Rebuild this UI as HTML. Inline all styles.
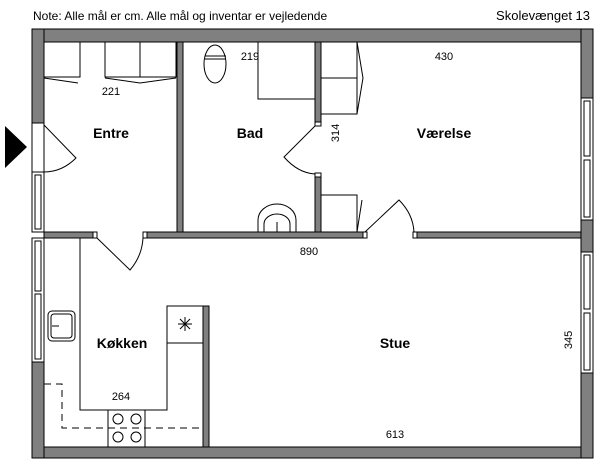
<!DOCTYPE html>
<html><head><style>
html,body{margin:0;padding:0;background:#fff;}
svg{display:block;font-family:"Liberation Sans",sans-serif;}
</style></head><body>
<svg width="600" height="464" viewBox="0 0 600 464" xmlns="http://www.w3.org/2000/svg">
<text x="33" y="20" font-size="12" fill="#000">Note: Alle mål er cm. Alle mål og inventar er vejledende</text>
<text x="590" y="20" font-size="13" text-anchor="end" fill="#000">Skolevænget 13</text>
<polygon points="5,126 27,147 5,168" fill="#000"/>
<g fill="#808080" stroke="#000" stroke-width="1">
<rect x="32" y="29" width="561" height="13"/>
<rect x="32" y="447" width="561" height="11"/>
<rect x="32" y="29" width="12" height="94"/>
<rect x="32" y="362" width="12" height="96"/>
<rect x="581" y="29" width="12" height="69"/>
<rect x="581" y="220" width="12" height="32"/>
<rect x="581" y="373" width="12" height="85"/>
<rect x="44" y="232" width="51" height="6"/>
<rect x="145" y="232" width="220" height="6"/>
<rect x="415" y="232" width="166" height="6"/>
<rect x="177" y="42" width="6" height="190"/>
<rect x="315" y="42" width="6" height="83"/>
<rect x="315" y="173" width="6" height="59"/>
<rect x="203" y="306" width="6" height="141"/>
</g>
<g fill="#fff" stroke="#000" stroke-width="1">
<rect x="32" y="123" width="12" height="49"/>
<rect x="32" y="172" width="12" height="60"/>
<rect x="35" y="175" width="6" height="54"/>
<rect x="32" y="238" width="12" height="124"/>
<rect x="35" y="241" width="6" height="50"/><rect x="35" y="294" width="6" height="65"/>
<rect x="581" y="98" width="12" height="122"/>
<rect x="584" y="101" width="6" height="55"/><rect x="584" y="160" width="6" height="57"/>
<rect x="581" y="252" width="12" height="121"/>
<rect x="584" y="255" width="6" height="54"/><rect x="584" y="313" width="6" height="57"/>
<rect x="93" y="232" width="4" height="6"/><rect x="143" y="232" width="4" height="6"/>
<rect x="363" y="232" width="4" height="6"/><rect x="413" y="232" width="4" height="6"/>
<rect x="315" y="122" width="6" height="4"/><rect x="315" y="173" width="6" height="4"/>
</g>
<g fill="none" stroke="#000" stroke-width="1">
<path d="M44,125 L76,158 Q62,172 44,172"/>
<path d="M97,238 L130,270 Q142,256 143,238"/>
<path d="M365,232 L399,200 Q413,214 414,232"/>
<path d="M315,126 L284,157 Q298,173 315,174"/>
<rect x="44" y="42" width="36" height="35"/>
<path d="M44,78 L78,83"/>
<rect x="105" y="42" width="35" height="35"/><rect x="140" y="42" width="36" height="35"/>
<path d="M105,78 L140,83 L176,78"/>
<path d="M258,42 L258,99 L315,99"/>
<ellipse cx="215" cy="64" rx="11" ry="19"/>
<path d="M205,56 L226,56 M205,59 L226,59"/>
<path d="M258,232 L258,220 A19,16 0 0 1 296,220 L296,232"/>
<path d="M264,232 L264,224 A13,10 0 0 1 290,224 L290,232"/>
<path d="M277,222 L277,232"/>
<rect x="321" y="42" width="36" height="72"/>
<path d="M321,78 L357,78"/>
<path d="M357,42 L363,78 L357,114"/>
<rect x="321" y="195" width="36" height="37"/>
<path d="M357,232 L362,200"/>
<path d="M80,238 L80,410 L167,410 L167,306 L203,306"/>
<rect x="167" y="306" width="36" height="37"/>
<path d="M178,324 L192,324 M185,317 L185,331 M180,319 L190,329 M190,319 L180,329"/>
<rect x="108" y="410" width="37" height="37"/>
<circle cx="118" cy="419" r="5"/><circle cx="136" cy="419" r="5"/>
<circle cx="118" cy="437" r="5"/><circle cx="136" cy="437" r="5"/>
<rect x="48" y="311" width="27" height="30" rx="4"/>
<rect x="51" y="314" width="21" height="24" rx="3"/>
<path d="M52,326 L59,326"/>
<path d="M44,384 L62,384 L62,428 L203,428" stroke-dasharray="7,5"/>
</g>
<g font-size="14" font-weight="bold" text-anchor="middle" fill="#000">
<text x="111" y="138">Entre</text>
<text x="250" y="138">Bad</text>
<text x="444" y="138">Værelse</text>
<text x="122" y="348">Køkken</text>
<text x="395" y="348">Stue</text>
</g>
<g font-size="11" text-anchor="middle" fill="#000">
<text x="111" y="95">221</text>
<text x="250" y="60">219</text>
<text x="444" y="60">430</text>
<text x="309" y="255">890</text>
<text x="121" y="400">264</text>
<text x="395" y="438">613</text>
<text transform="translate(339,133) rotate(-90)">314</text>
<text transform="translate(572,340) rotate(-90)">345</text>
</g>
</svg>
</body></html>
